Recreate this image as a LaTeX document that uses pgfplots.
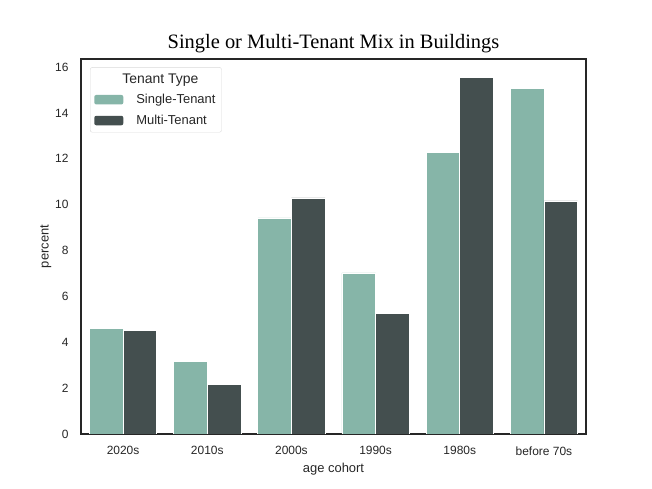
\documentclass[border=0pt]{standalone}
\usepackage{pgfplots}
\pgfplotsset{compat=1.18}
\usepackage{fontspec}
\setmainfont{Liberation Sans}
\newfontfamily\titlefont{Liberation Serif}
\definecolor{single}{HTML}{86B5A8}
\definecolor{multi}{HTML}{444F4F}
\definecolor{frame}{HTML}{262626}

\begin{document}
\begin{tikzpicture}[x=1bp,y=1bp]
\useasboundingbox (0,0) rectangle (652,489);
\begin{axis}[
  at={(81bp,55bp)}, anchor=south west,
  scale only axis, width=505bp, height=375bp,
  ybar, bar width=0.4,
  xmin=-0.5, xmax=5.5, ymin=0, ymax=16.35,
  xtick={0,...,5},
  xticklabels={2020s,2010s,2000s,1990s,1980s,before 70s},
  ytick={0,2,...,16},
  major tick length=0pt,
  tick label style={font=\fontsize{12}{14}\selectfont, text=frame},
  /pgf/number format/assume math mode=true,
  xticklabel style={yshift=-9bp},
  yticklabel style={xshift=-9bp},
  axis line style={frame, line width=1.2bp},
  xlabel={age cohort}, ylabel={percent},
  label style={font=\fontsize{13}{15}\selectfont, text=frame},
  xlabel style={yshift=-1bp},
  ylabel style={yshift=-3bp},
  title={\titlefont\fontsize{20.5}{24}\selectfont Single or Multi-Tenant Mix in Buildings},
  title style={yshift=-3bp},
  legend style={at={(0.018,0.978)}, anchor=north west,
    font=\fontsize{13}{15}\selectfont, draw=black!15, rounded corners=2bp,
    inner xsep=4bp, inner ysep=4bp, row sep=6bp, text=frame},
  legend cell align=left,
  legend image code/.code={\fill[#1, draw=none] (0bp,-4.5bp) rectangle (29bp,5bp);
    \path[draw=none, fill=none] (0bp,0bp) -- (40bp,0bp);},
]
\addlegendimage{empty legend}
\addlegendentry{\hspace{-14bp}\fontsize{14}{16}\selectfont Tenant Type}
\addplot[fill=single, draw=white, line width=0.6bp, bar shift=-0.2]
  coordinates {(0,4.62) (1,3.18) (2,9.42) (3,7.02) (4,12.29) (5,15.08)};
\addlegendentry{Single-Tenant}
\addplot[fill=multi, draw=white, line width=0.6bp, bar shift=0.2]
  coordinates {(0,4.53) (1,2.16) (2,10.29) (3,5.27) (4,15.56) (5,10.16)};
\addlegendentry{Multi-Tenant}
\end{axis}
\end{tikzpicture}
\end{document}
